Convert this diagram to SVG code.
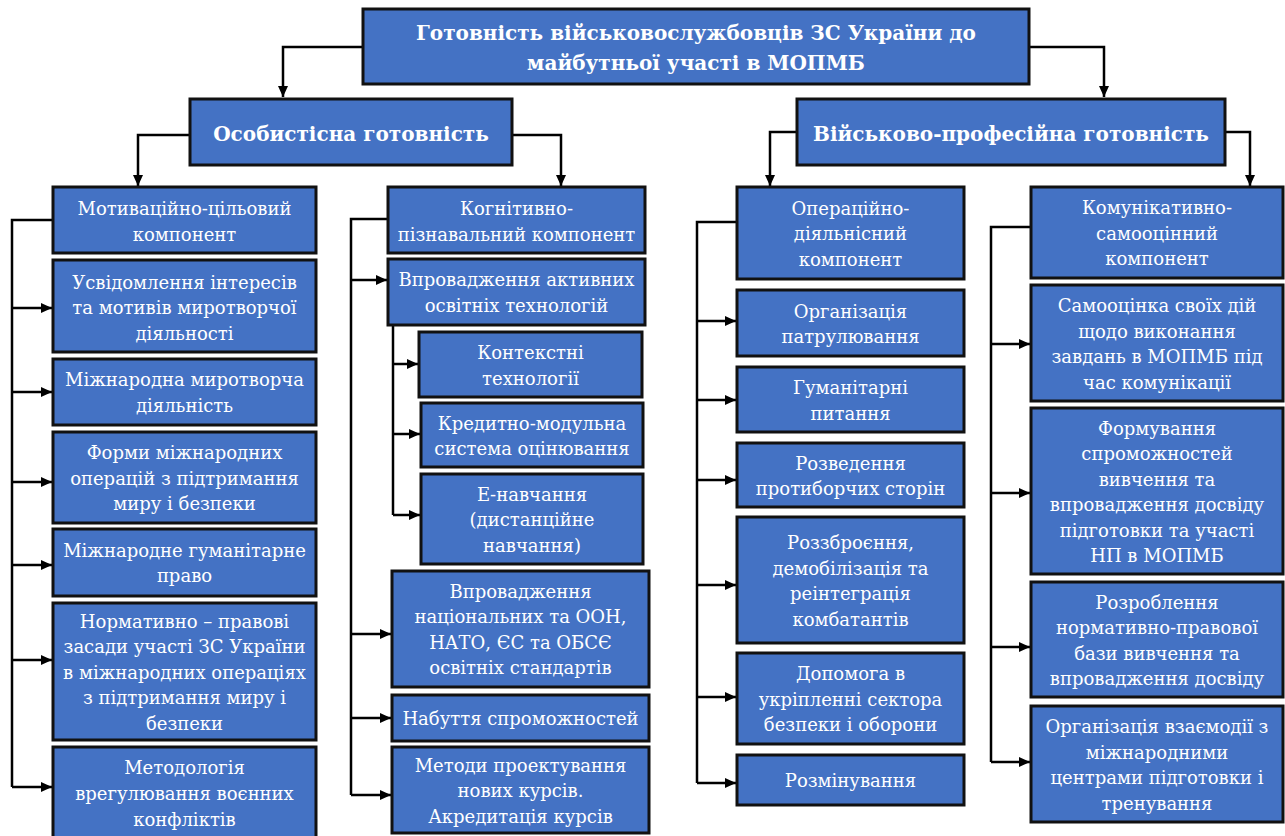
<svg xmlns="http://www.w3.org/2000/svg" width="1285" height="836" viewBox="0 0 1285 836">
<style>
.box{fill:#4472C4;stroke:#111;stroke-width:3}
.t{font-family:"DejaVu Serif","Liberation Serif",serif;font-size:18px;fill:#fff;text-anchor:middle}
.h{font-family:"DejaVu Serif","Liberation Serif",serif;font-size:20px;font-weight:bold;fill:#fff;text-anchor:middle}
.c{fill:none;stroke:#000;stroke-width:2.5}
.a{fill:none;stroke:#000;stroke-width:2.5;marker-end:url(#arr)}
</style>
<defs>
<marker id="arr" markerUnits="userSpaceOnUse" markerWidth="11" markerHeight="10" refX="11" refY="5" orient="auto">
<path d="M0,0 L11,5 L0,10 z" fill="#000"/>
</marker>
</defs>
<rect width="1285" height="836" fill="#fff"/>
<g id="connectors">
<path class="a" d="M363,47 H283 V97"/>
<path class="a" d="M1029,47 H1104 V97"/>
<path class="a" d="M190,135 H138 V186"/>
<path class="a" d="M512,135 H561 V186"/>
<path class="a" d="M797,132 H770 V186"/>
<path class="a" d="M1225,132 H1250 V186"/>
<path class="c" d="M53,220 H12 V787"/>
<path class="a" d="M12,308 H52"/>
<path class="a" d="M12,392 H52"/>
<path class="a" d="M12,482 H52"/>
<path class="a" d="M12,565 H52"/>
<path class="a" d="M12,660 H52"/>
<path class="a" d="M12,787 H52"/>
<path class="c" d="M388,219 H351 V795"/>
<path class="a" d="M351,280 H387"/>
<path class="a" d="M351,634 H391"/>
<path class="a" d="M351,718 H391"/>
<path class="a" d="M351,795 H391"/>
<path class="c" d="M393,325 V515"/>
<path class="a" d="M393,364 H418"/>
<path class="a" d="M393,434 H420"/>
<path class="a" d="M393,515 H420"/>
<path class="c" d="M737,222 H697 V783"/>
<path class="a" d="M697,321 H736"/>
<path class="a" d="M697,400 H736"/>
<path class="a" d="M697,480 H736"/>
<path class="a" d="M697,585 H736"/>
<path class="a" d="M697,697 H736"/>
<path class="a" d="M697,783 H736"/>
<path class="c" d="M1031,227 H991 V762"/>
<path class="a" d="M991,344 H1030"/>
<path class="a" d="M991,493 H1030"/>
<path class="a" d="M991,647 H1030"/>
<path class="a" d="M991,762 H1030"/>
</g>
<g id="root"><rect class="box" x="363" y="9" width="666" height="75"/>
<text class="h"><tspan x="696" y="40">Готовність військовослужбовців ЗС України до</tspan><tspan x="696" y="70">майбутньої участі в МОПМБ</tspan></text></g>
<g id="personal"><rect class="box" x="190" y="99" width="322" height="66"/>
<text class="h" x="351" y="141">Особистісна готовність</text></g>
<g id="professional"><rect class="box" x="797" y="99" width="428" height="66"/>
<text class="h" x="1011" y="141">Військово-професійна готовність</text></g>

<g id="c1n1"><rect class="box" x="53" y="187" width="263" height="66"/>
<text class="t"><tspan x="184.5" y="215">Мотиваційно-цільовий</tspan><tspan x="184.5" y="241">компонент</tspan></text></g>
<g id="c1n2"><rect class="box" x="53" y="260" width="263" height="92"/>
<text class="t"><tspan x="184.5" y="288.5">Усвідомлення інтересів</tspan><tspan x="184.5" y="314">та мотивів миротворчої</tspan><tspan x="184.5" y="339.5">діяльності</tspan></text></g>
<g id="c1n3"><rect class="box" x="53" y="359" width="263" height="66"/>
<text class="t"><tspan x="184.5" y="386">Міжнародна миротворча</tspan><tspan x="184.5" y="412">діяльність</tspan></text></g>
<g id="c1n4"><rect class="box" x="53" y="432" width="263" height="91"/>
<text class="t"><tspan x="184.5" y="459">Форми міжнародних</tspan><tspan x="184.5" y="484.5">операцій з підтримання</tspan><tspan x="184.5" y="510">миру і безпеки</tspan></text></g>
<g id="c1n5"><rect class="box" x="53" y="529" width="263" height="67"/>
<text class="t"><tspan x="184.5" y="557">Міжнародне гуманітарне</tspan><tspan x="184.5" y="582">право</tspan></text></g>
<g id="c1n6"><rect class="box" x="53" y="603" width="263" height="137"/>
<text class="t"><tspan x="184.5" y="627.5">Нормативно – правові</tspan><tspan x="184.5" y="653">засади участі ЗС України</tspan><tspan x="184.5" y="678.5">в міжнародних операціях</tspan><tspan x="184.5" y="704">з підтримання миру і</tspan><tspan x="184.5" y="729.5">безпеки</tspan></text></g>
<g id="c1n7"><rect class="box" x="53" y="747" width="263" height="95"/>
<text class="t"><tspan x="184.5" y="774">Методологія</tspan><tspan x="184.5" y="800">врегулювання воєнних</tspan><tspan x="184.5" y="826">конфліктів</tspan></text></g>

<g id="c2n1"><rect class="box" x="388" y="187" width="257" height="66"/>
<text class="t"><tspan x="516.5" y="215">Когнітивно-</tspan><tspan x="516.5" y="241">пізнавальний компонент</tspan></text></g>
<g id="c2n2"><rect class="box" x="388" y="259" width="257" height="66"/>
<text class="t"><tspan x="516.5" y="286">Впровадження активних</tspan><tspan x="516.5" y="312">освітніх технологій</tspan></text></g>
<g id="c2n3"><rect class="box" x="419" y="332" width="223" height="65"/>
<text class="t"><tspan x="530.5" y="359">Контекстні</tspan><tspan x="530.5" y="384.5">технології</tspan></text></g>
<g id="c2n4"><rect class="box" x="421" y="403" width="222" height="64"/>
<text class="t"><tspan x="532" y="429.5">Кредитно-модульна</tspan><tspan x="532" y="455">система оцінювання</tspan></text></g>
<g id="c2n5"><rect class="box" x="421" y="474" width="222" height="90"/>
<text class="t"><tspan x="532" y="500.5">Е-навчання</tspan><tspan x="532" y="526">(дистанційне</tspan><tspan x="532" y="551.5">навчання)</tspan></text></g>
<g id="c2n6"><rect class="box" x="392" y="571" width="257" height="116"/>
<text class="t"><tspan x="520.5" y="598">Впровадження</tspan><tspan x="520.5" y="623">національних та ООН,</tspan><tspan x="520.5" y="649">НАТО, ЄС та ОБСЄ</tspan><tspan x="520.5" y="674">освітніх стандартів</tspan></text></g>
<g id="c2n7"><rect class="box" x="392" y="695" width="257" height="46"/>
<text class="t" x="520.5" y="725">Набуття спроможностей</text></g>
<g id="c2n8"><rect class="box" x="392" y="747" width="257" height="86"/>
<text class="t"><tspan x="520.5" y="771.5">Методи проектування</tspan><tspan x="520.5" y="797">нових курсів.</tspan><tspan x="520.5" y="822.5">Акредитація курсів</tspan></text></g>

<g id="c3n1"><rect class="box" x="737" y="187" width="227" height="92"/>
<text class="t"><tspan x="850.5" y="214.5">Операційно-</tspan><tspan x="850.5" y="240">діяльнісний</tspan><tspan x="850.5" y="265.5">компонент</tspan></text></g>
<g id="c3n2"><rect class="box" x="737" y="290" width="227" height="66"/>
<text class="t"><tspan x="850.5" y="317.5">Організація</tspan><tspan x="850.5" y="343">патрулювання</tspan></text></g>
<g id="c3n3"><rect class="box" x="737" y="367" width="227" height="65"/>
<text class="t"><tspan x="850.5" y="394">Гуманітарні</tspan><tspan x="850.5" y="419.5">питання</tspan></text></g>
<g id="c3n4"><rect class="box" x="737" y="443" width="227" height="64"/>
<text class="t"><tspan x="850.5" y="469.5">Розведення</tspan><tspan x="850.5" y="495">протиборчих сторін</tspan></text></g>
<g id="c3n5"><rect class="box" x="737" y="517" width="227" height="126"/>
<text class="t"><tspan x="850.5" y="549">Роззброєння,</tspan><tspan x="850.5" y="574.5">демобілізація та</tspan><tspan x="850.5" y="600">реінтеграція</tspan><tspan x="850.5" y="625.5">комбатантів</tspan></text></g>
<g id="c3n6"><rect class="box" x="737" y="653" width="227" height="91"/>
<text class="t"><tspan x="850.5" y="680">Допомога в</tspan><tspan x="850.5" y="705.5">укріпленні сектора</tspan><tspan x="850.5" y="731">безпеки і оборони</tspan></text></g>
<g id="c3n7"><rect class="box" x="737" y="755" width="227" height="50"/>
<text class="t" x="850.5" y="787">Розмінування</text></g>

<g id="c4n1"><rect class="box" x="1031" y="187" width="252" height="91"/>
<text class="t"><tspan x="1157" y="214">Комунікативно-</tspan><tspan x="1157" y="239.5">самооцінний</tspan><tspan x="1157" y="265">компонент</tspan></text></g>
<g id="c4n2"><rect class="box" x="1031" y="285" width="252" height="116"/>
<text class="t"><tspan x="1157" y="312">Самооцінка своїх дій</tspan><tspan x="1157" y="337.5">щодо виконання</tspan><tspan x="1157" y="363">завдань в МОПМБ під</tspan><tspan x="1157" y="388.5">час комунікації</tspan></text></g>
<g id="c4n3"><rect class="box" x="1031" y="408" width="252" height="166"/>
<text class="t"><tspan x="1157" y="434.5">Формування</tspan><tspan x="1157" y="460">спроможностей</tspan><tspan x="1157" y="485.5">вивчення та</tspan><tspan x="1157" y="511">впровадження досвіду</tspan><tspan x="1157" y="536.5">підготовки та участі</tspan><tspan x="1157" y="562">НП в МОПМБ</tspan></text></g>
<g id="c4n4"><rect class="box" x="1031" y="582" width="252" height="115"/>
<text class="t"><tspan x="1157" y="608.5">Розроблення</tspan><tspan x="1157" y="634">нормативно-правової</tspan><tspan x="1157" y="659.5">бази вивчення та</tspan><tspan x="1157" y="685">впровадження досвіду</tspan></text></g>
<g id="c4n5"><rect class="box" x="1031" y="706" width="252" height="116"/>
<text class="t"><tspan x="1157" y="733">Організація взаємодії з</tspan><tspan x="1157" y="758.5">міжнародними</tspan><tspan x="1157" y="784">центрами підготовки і</tspan><tspan x="1157" y="809.5">тренування</tspan></text></g>
</svg>
